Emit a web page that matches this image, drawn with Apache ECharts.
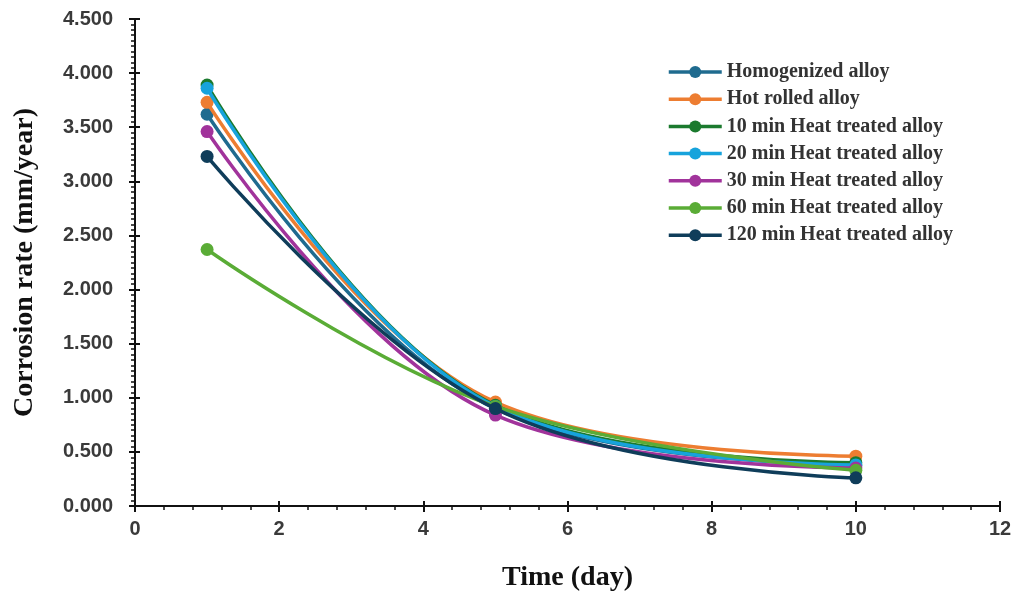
<!DOCTYPE html>
<html>
<head>
<meta charset="utf-8">
<script src="https://cdn.jsdelivr.net/npm/echarts@6/dist/echarts.min.js"></script>
<style>html,body{margin:0;padding:0;background:#fff}#c{width:1019px;height:599px}</style>
</head>
<body>
<div id="c"></div>
<script>
const days = [1, 5, 10];
const seriesNames = ["Homogenized alloy","Hot rolled alloy","10 min Heat treated alloy","20 min Heat treated alloy","30 min Heat treated alloy","60 min Heat treated alloy","120 min Heat treated alloy"];
const homogenized = [3.62, 0.90, 0.38];
const hotRolled = [3.73, 0.96, 0.46];
const ht10 = [3.89, 0.93, 0.40];
const ht20 = [3.86, 0.92, 0.38];
const ht30 = [3.46, 0.84, 0.35];
const ht60 = [2.37, 0.92, 0.33];
const ht120 = [3.23, 0.90, 0.26];
const colors = ["#1f6b8f","#ed7d31","#1b7a2e","#17a3dc","#a1339b","#5aac36","#0f3d5a"];
const allValues = [homogenized, hotRolled, ht10, ht20, ht30, ht60, ht120];

const chart = echarts.init(document.getElementById('c'));
const series = allValues.map((vals, i) => ({
  name: seriesNames[i],
  type: 'line',
  smooth: 0.4,
  data: days.map((d, j) => [d, vals[j]]),
  symbol: 'circle',
  symbolSize: 13,
  lineStyle: {width: 3.5, color: colors[i]},
  itemStyle: {color: colors[i]},
  z: 2 + i
}));
const labelFont = {fontFamily: 'Liberation Sans, Arial', fontWeight: 'bold', fontSize: 20, color: '#3a3a3a'};
chart.setOption({
  animation: false,
  backgroundColor: '#fff',
  grid: {left: 135, right: 19, top: 19, bottom: 93},
  legend: {
    orient: 'vertical', left: 667, top: 62, padding: 0,
    itemWidth: 53, itemHeight: 15, itemGap: 7.2,
    lineStyle: {width: 3.5},
    textStyle: {fontFamily: 'Liberation Serif, Times New Roman', fontWeight: 'bold', fontSize: 20, lineHeight: 20, color: '#333'},
    data: seriesNames
  },
  xAxis: [{
    type: 'value', min: 0, max: 12, interval: 2,
    name: 'Time (day)', nameLocation: 'middle', nameGap: 58,
    nameTextStyle: {fontFamily: 'Liberation Serif, Times New Roman', fontWeight: 'bold', fontSize: 28, color: '#111'},
    axisLine: {lineStyle: {color: '#111', width: 2}},
    axisTick: {show: true, length: 6, lineStyle: {color: '#111', width: 2}},
    minorTick: {show: true, splitNumber: 5, length: 4, lineStyle: {color: '#111', width: 1.5}},
    axisLabel: Object.assign({margin: 13}, labelFont),
    splitLine: {show: false}
  }, {
    type: 'value', min: 0, max: 12, interval: 2, position: 'bottom',
    axisLine: {show: false},
    axisTick: {show: true, inside: true, length: 5, lineStyle: {color: '#111', width: 2}},
    axisLabel: {show: false}, splitLine: {show: false}
  }],
  yAxis: [{
    type: 'value', min: 0, max: 4.5, interval: 0.5,
    name: 'Corrosion rate (mm/year)', nameLocation: 'middle', nameGap: 96,
    nameTextStyle: {fontFamily: 'Liberation Serif, Times New Roman', fontWeight: 'bold', fontSize: 28, color: '#111'},
    axisLine: {show: true, lineStyle: {color: '#111', width: 2}},
    axisTick: {show: true, length: 6, lineStyle: {color: '#111', width: 2}},
    minorTick: {show: true, splitNumber: 10, length: 4, lineStyle: {color: '#111', width: 1.5}},
    axisLabel: Object.assign({margin: 22, formatter: v => v.toFixed(3)}, labelFont),
    splitLine: {show: false}
  }, {
    type: 'value', min: 0, max: 4.5, interval: 0.5, position: 'left',
    axisLine: {show: false},
    axisTick: {show: true, inside: true, length: 5, lineStyle: {color: '#111', width: 2}},
    axisLabel: {show: false}, splitLine: {show: false}
  }],
  series: series
});
</script>
</body>
</html>
